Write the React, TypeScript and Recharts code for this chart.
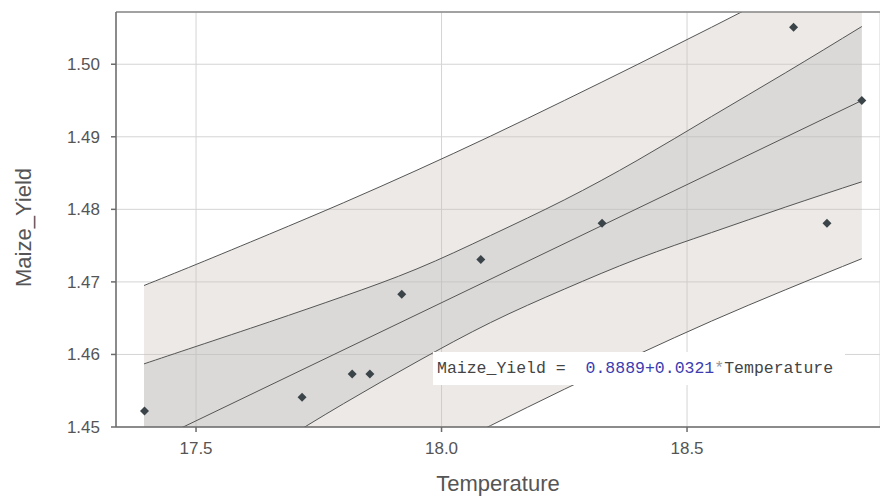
import { ComposedChart, Area, Line, Scatter, XAxis, YAxis, CartesianGrid, ReferenceLine } from 'recharts';

// observed points
const temperature = [17.395, 17.716, 17.818, 17.854, 17.919, 18.08, 18.327, 18.717, 18.785, 18.856];
const maizeYield = [1.4522, 1.4541, 1.4573, 1.4573, 1.4683, 1.4731, 1.4781, 1.5051, 1.4781, 1.495];

// prediction / confidence bands
const bandT = [17.394, 17.5, 17.65, 17.8, 17.95, 18.1, 18.25, 18.4, 18.55, 18.7, 18.856];
const predLow = [1.4253, 1.4292, 1.4346, 1.4399, 1.4451, 1.4502, 1.4552, 1.46, 1.4646, 1.4689, 1.4732];
const predHigh = [1.4695, 1.4724, 1.4766, 1.4809, 1.4854, 1.4901, 1.495, 1.5, 1.5051, 1.5103, 1.5158];
const confLow = [1.4358, 1.4405, 1.447, 1.4532, 1.459, 1.4644, 1.469, 1.4732, 1.4768, 1.4803, 1.4838];
const confHigh = [1.4587, 1.4611, 1.4645, 1.468, 1.4718, 1.4764, 1.4813, 1.4868, 1.4928, 1.4988, 1.5052];

// fitted line end points
const fitT = [17.394, 18.856];
const fitY = [1.4474, 1.495];

const xTicks = [17.5, 18.0, 18.5];
const yTicks = [1.45, 1.46, 1.47, 1.48, 1.49, 1.5];
const X_MIN = 17.337;
const X_MAX = 18.893;
const Y_MIN = 1.45;
const Y_MAX = 1.5072;

const bands = bandT.map((t, i) => ({
    t,
    pred: [predLow[i], predHigh[i]],
    conf: [confLow[i], confHigh[i]],
}));
const points = temperature.map((t, i) => ({ t, y: maizeYield[i] }));
const fit = fitT.map((t, i) => ({ t, y: fitY[i] }));

const Diamond = (props: any) => {
    const { cx, cy } = props;
    const r = 4.5;
    return <polygon points={`${cx},${cy - r} ${cx + r},${cy} ${cx},${cy + r} ${cx - r},${cy}`} fill="#3b4549" />;
};

const YTitle = (props: any) => {
    const { viewBox } = props;
    const cx = viewBox.x + 23;
    const cy = viewBox.y + viewBox.height / 2 + 8;
    return (
        <text x={cx} y={cy} transform={`rotate(-90, ${cx}, ${cy})`} textAnchor="middle" dominantBaseline="central" fill="#555" fontSize={22}>
            Maize_Yield
        </text>
    );
};

export default function App() {
    return (
        <div style={{ position: 'absolute', left: 0, top: 0, width: 880, height: 497, fontFamily: '"Liberation Sans", Arial, sans-serif', background: '#fff' }}>
            <ComposedChart width={880} height={497} data={bands} margin={{ top: 12, right: 0, bottom: 0, left: 0 }}>
                <CartesianGrid stroke="#d4d4d4" />
                <XAxis
                    type="number"
                    dataKey="t"
                    domain={[X_MIN, X_MAX]}
                    allowDataOverflow
                    ticks={xTicks}
                    tickFormatter={(v: number) => v.toFixed(1)}
                    height={70}
                    stroke="#6b6b6b"
                    strokeWidth={1.5}
                    tick={{ fill: '#555', fontSize: 17 }}
                    tickSize={5}
                    tickMargin={10}
                    label={{ value: 'Temperature', position: 'insideBottom', offset: 6, fill: '#555', fontSize: 22 }}
                />
                <YAxis
                    type="number"
                    domain={[Y_MIN, Y_MAX]}
                    allowDataOverflow
                    ticks={yTicks}
                    tickFormatter={(v: number) => v.toFixed(2)}
                    width={116}
                    stroke="#6b6b6b"
                    strokeWidth={1.5}
                    tick={{ fill: '#555', fontSize: 17 }}
                    tickSize={5}
                    tickMargin={11}
                    label={<YTitle />}
                />
                <ReferenceLine y={Y_MAX} stroke="#8a8a8a" strokeWidth={1.5} />
                <Area type="natural" dataKey="pred" stroke="#555" strokeWidth={1} fill="#c8c0b8" fillOpacity={0.35} isAnimationActive={false} />
                <Area type="natural" dataKey="conf" stroke="#555" strokeWidth={1} fill="#b4b6b8" fillOpacity={0.3} isAnimationActive={false} />
                <Line data={fit} dataKey="y" type="linear" stroke="#555" strokeWidth={1} dot={false} isAnimationActive={false} />
                <Scatter data={points} dataKey="y" shape={<Diamond />} isAnimationActive={false} />
            </ComposedChart>
            <div
                style={{
                    position: 'absolute',
                    left: 433,
                    top: 352,
                    width: 412,
                    height: 33,
                    background: '#fff',
                    fontFamily: '"Liberation Mono", "DejaVu Sans Mono", monospace',
                    fontSize: 16.5,
                    lineHeight: '33px',
                    paddingLeft: 4,
                    boxSizing: 'border-box',
                    whiteSpace: 'pre',
                    color: '#444',
                }}
            >
                <span>Maize_Yield =  </span>
                <span style={{ color: '#3c3cb0' }}>0.8889+0.0321</span>
                <span style={{ color: '#999' }}>*</span>
                <span>Temperature</span>
            </div>
        </div>
    );
}
